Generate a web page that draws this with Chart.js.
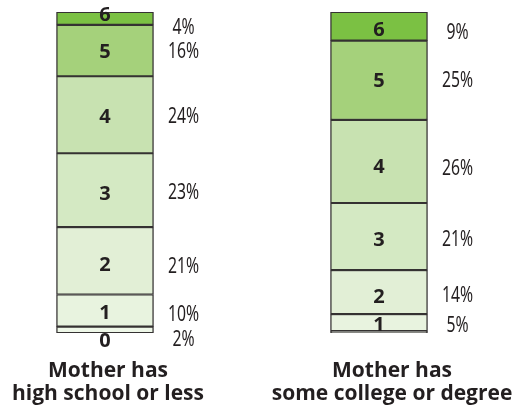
<!DOCTYPE html>
<html lang="en">
<head>
  <meta charset="UTF-8">
  <title>Mother's education</title>
  <script src="https://cdn.jsdelivr.net/npm/chart.js"></script>
  <style>
    html, body { margin: 0; padding: 0; background: #fff; }
    .wrap { width: 514px; height: 408px; }
  </style>
</head>
<body>
<div class="wrap"><canvas class="chart" width="514" height="408"></canvas></div>

<script>
  // Data
  const groups = [
    ['Mother has', 'high school or less'],
    ['Mother has', 'some college or degree']
  ];
  const levels = ['0', '1', '2', '3', '4', '5', '6'];
  // share (%) per level, one array per group
  const highSchool = [2, 10, 21, 23, 24, 16, 4];
  const college = [0.6, 5.3, 13.7, 20.9, 25.9, 24.7, 8.9];

  const colors = ['#eef7e8', '#e8f3df', '#e2efd6', '#d4e9c3', '#c8e2b1', '#a5d17b', '#7bc143'];
  const ink = '#231f20';

  // small label nudges (px) for each group, by level
  const numNudge = [[10, 1, 3, 3, 1, 0, -4], [0, 1, 3.5, 2, 5, 0, 3]];
  const pctNudge = [[9, 3, 4.5, 1.5, 1, 0, 8], [0, 1.5, 2.5, 1.5, 6, -1, 5]];
  const groupShift = [3, 13];

  const datasets = levels.map((lv, i) => ({
    label: lv,
    data: [{ x: 0, y: highSchool[i] }, { x: 1, y: college[i] }],
    backgroundColor: colors[i],
    borderColor: '#353232',
    borderWidth: 1.4,
    borderSkipped: false,
    barThickness: 97
  }));

  // Подписи сегментов и групп
  const segmentLabels = {
    id: 'segmentLabels',
    afterDatasetsDraw(chart) {
      const ctx = chart.ctx;
      ctx.save();
      ctx.fillStyle = ink;
      ctx.textBaseline = 'alphabetic';
      ctx.textAlign = 'center';
      chart.data.datasets.forEach((ds, i) => {
        const meta = chart.getDatasetMeta(i);
        meta.data.forEach((bar, g) => {
          const v = ds.data[g].y;
          if (v < 1) return;
          const cy = (bar.y + bar.base) / 2;
          ctx.font = 'bold 20px "Open Sans", sans-serif';
          ctx.fillText(ds.label, bar.x, cy + numNudge[g][i] + 7);
          ctx.save();
          ctx.translate(bar.x + bar.width / 2 + 30, cy + pctNudge[g][i] + 7.5);
          ctx.scale(0.75, 1);
          ctx.font = '21px "Noto Sans", sans-serif';
          ctx.fillText(Math.round(v) + '%', 0, 0);
          ctx.restore();
        });
      });
      const xs = chart.scales.x;
      ctx.font = 'bold 21px "Open Sans", sans-serif';
      groups.forEach((lines, g) => {
        const x = xs.getPixelForValue(g) + groupShift[g];
        lines.forEach((t, k) => ctx.fillText(t, x, 377 + k * 23));
      });
      ctx.restore();
    }
  };

  const ctx = document.querySelector('.chart').getContext('2d');
  new Chart(ctx, {
    type: 'bar',
    data: { datasets },
    plugins: [segmentLabels],
    options: {
      responsive: false,
      animation: false,
      layout: { padding: { top: 12, bottom: 75, left: 0, right: 0 } },
      plugins: { legend: { display: false }, tooltip: { enabled: false } },
      scales: {
        x: {
          type: 'linear',
          stacked: true,
          display: false,
          offset: false,
          min: -105 / 274,
          max: 1 + 135 / 274
        },
        y: {
          stacked: true,
          display: false,
          min: 0,
          max: 100
        }
      }
    }
  });
</script>
</body>
</html>
